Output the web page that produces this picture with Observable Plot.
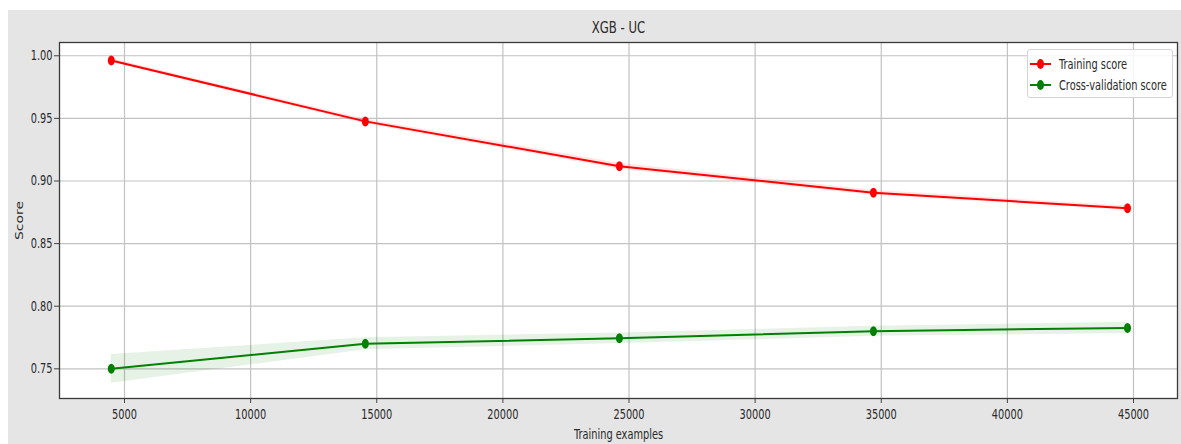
<!DOCTYPE html>
<html>
<head>
<meta charset="utf-8">
<script src="https://cdn.jsdelivr.net/npm/d3@7"></script>
<script src="https://cdn.jsdelivr.net/npm/@observablehq/plot@0.6"></script>
<style>
  html, body { margin: 0; padding: 0; background: #ffffff; }
  #figure { position: relative; width: 1181px; height: 444px; overflow: hidden; font-family: "DejaVu Sans", sans-serif; }
  #panel { position: absolute; left: 8px; top: 10px; width: 1173px; height: 434px; background: #e5e5e5; }
  #chart { position: absolute; left: 0; top: 0; }
  #legend { position: absolute; left: 1027px; top: 49px; width: 144px; height: 47px;
            background: rgba(255,255,255,0.85); border: 1px solid #d4d4d4; border-radius: 3px; }
  .row { position: absolute; left: 0; width: 100%; height: 20px; }
  .sw-line { position: absolute; left: 2px; top: 9px; width: 21px; height: 2px; }
  .sw-dot { position: absolute; left: 9px; top: 5px; width: 7px; height: 10px; border-radius: 50%; }
  .lbl { position: absolute; left: 31px; top: 0; line-height: 20px; font-size: 14px; color: #2a2a2a;
         white-space: nowrap; transform: scaleX(0.7); transform-origin: left center; }
</style>
</head>
<body>
<div id="figure">
  <div id="panel"></div>
  <div id="chart"></div>
  <div id="legend"></div>
</div>
<script>
// Learning curve for the XGB model: mean score and std at each training size
const trainSizes = [4476, 14547, 24619, 34690, 44762];
const trainMean = [0.9963, 0.9476, 0.9118, 0.8906, 0.8783];
const trainStd = [0.0015, 0.0018, 0.0024, 0.0020, 0.0017];
const cvMean = [0.7500, 0.7700, 0.7744, 0.7800, 0.7827];
const cvStd = [0.0115, 0.0048, 0.0042, 0.0040, 0.0045];

const xTicks = [5000, 10000, 15000, 20000, 25000, 30000, 35000, 40000, 45000];
const yTicks = [0.75, 0.80, 0.85, 0.90, 0.95, 1.00];

const seriesNames = ["Training score", "Cross-validation score"];
const seriesColors = ["#ff0000", "#008000"];

const title = "XGB - UC";
const xLabel = "Training examples";
const yLabel = "Score";

const train = trainSizes.map((n, i) => ({n, mean: trainMean[i], lo: trainMean[i] - trainStd[i], hi: trainMean[i] + trainStd[i]}));
const cv = trainSizes.map((n, i) => ({n, mean: cvMean[i], lo: cvMean[i] - cvStd[i], hi: cvMean[i] + cvStd[i]}));

// markers are slightly narrower than tall
const ellipse = {
  draw(ctx, size) {
    const ry = Math.sqrt(size / Math.PI), rx = ry * 0.7, k = 0.5523;
    ctx.moveTo(rx, 0);
    ctx.bezierCurveTo(rx, k * ry, k * rx, ry, 0, ry);
    ctx.bezierCurveTo(-k * rx, ry, -rx, k * ry, -rx, 0);
    ctx.bezierCurveTo(-rx, -k * ry, -k * rx, -ry, 0, -ry);
    ctx.bezierCurveTo(k * rx, -ry, rx, -k * ry, rx, 0);
    ctx.closePath();
  }
};

const font = "DejaVu Sans";

const series = (data, color) => [
  Plot.areaY(data, {x: "n", y1: "lo", y2: "hi", fill: color, fillOpacity: 0.1}),
  Plot.lineY(data, {x: "n", y: "mean", stroke: color, strokeWidth: 2}),
  Plot.dot(data, {x: "n", y: "mean", fill: color, r: 5, symbol: ellipse})
];

const chart = Plot.plot({
  width: 1181,
  height: 444,
  marginTop: 42,
  marginRight: 4,
  marginBottom: 46,
  marginLeft: 59,
  style: {background: "transparent", fontFamily: font, fontSize: "14px", color: "#2a2a2a"},
  x: {domain: [2423, 46744]},
  y: {domain: [0.7263, 1.0106]},
  marks: [
    Plot.frame({fill: "white"}),
    Plot.gridX({ticks: xTicks, stroke: "#c2c2c2", strokeOpacity: 1, strokeWidth: 1.2}),
    Plot.gridY({ticks: yTicks, stroke: "#c2c2c2", strokeOpacity: 1, strokeWidth: 1.2}),
    ...series(train, seriesColors[0]),
    ...series(cv, seriesColors[1]),
    Plot.axisX({ticks: xTicks, tickFormat: d3.format("d"), tickSize: 5, tickPadding: 6, label: null, stroke: "#444", fill: "#2a2a2a"}),
    Plot.axisY({ticks: yTicks, tickFormat: d3.format(".2f"), tickSize: 5, tickPadding: 2, label: null, stroke: "#444", fill: "#2a2a2a"}),
    Plot.frame({stroke: "#3a3a3a", strokeWidth: 1.3}),
    Plot.text([title], {frameAnchor: "top", lineAnchor: "middle", textAnchor: "middle", dy: -14.5, fontSize: 16.7, fill: "#2a2a2a"}),
    Plot.text([xLabel], {frameAnchor: "bottom", lineAnchor: "middle", textAnchor: "middle", dy: 36, fontSize: 14, fill: "#2a2a2a"}),
    Plot.text([yLabel], {frameAnchor: "left", lineAnchor: "middle", textAnchor: "middle", dx: -40, rotate: -90, fontSize: 14, fill: "#2a2a2a"})
  ]
});

// condensed lettering: narrow every label horizontally around its anchor
chart.querySelectorAll("text").forEach(t => {
  const tr = t.getAttribute("transform") || "";
  const rotated = /rotate\(\s*-?90\s*\)/.test(tr);
  t.setAttribute("transform", (tr + (rotated ? " scale(1,0.7)" : " scale(0.7,1)")).trim());
});

document.getElementById("chart").appendChild(chart);

// legend
const legend = document.getElementById("legend");
seriesNames.forEach((name, i) => {
  const row = document.createElement("div");
  row.className = "row";
  row.style.top = (4 + i * 20.6) + "px";
  const line = document.createElement("div");
  line.className = "sw-line";
  line.style.background = seriesColors[i];
  const dot = document.createElement("div");
  dot.className = "sw-dot";
  dot.style.background = seriesColors[i];
  const lbl = document.createElement("span");
  lbl.className = "lbl";
  lbl.textContent = name;
  row.append(line, dot, lbl);
  legend.appendChild(row);
});
</script>
</body>
</html>
